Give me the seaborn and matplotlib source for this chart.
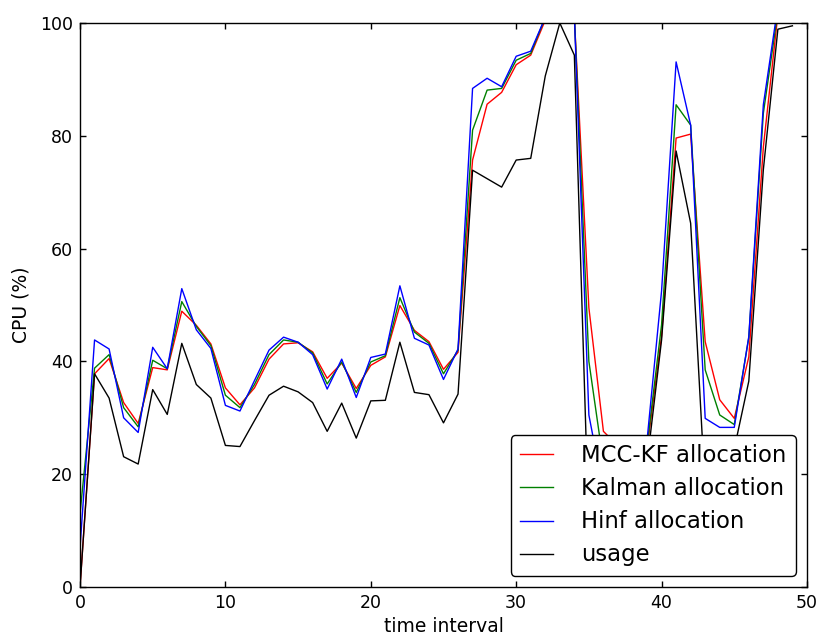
import numpy as np
import pandas as pd
import matplotlib
matplotlib.use("Agg")
import matplotlib.pyplot as plt
import seaborn as sns

time_interval = list(range(50))

mcc_kf = [0, 37.8, 40.5, 32.7, 29.0, 38.9, 38.5, 48.9, 46.4, 43.1,
          35.3, 32.3, 35.3, 40.4, 43.1, 43.3, 41.7, 37.0, 39.7, 35.2,
          39.3, 40.8, 49.9, 45.5, 43.5, 38.6, 41.6, 75.7, 85.6, 87.7,
          92.6, 94.3, 100.5, 101, 101, 49.5, 27.6, 25, 24, 24.5,
          44.5, 79.6, 80.3, 43.5, 33.2, 29.9, 40.8, 78, 101.5, 102]

kalman = [13, 38.8, 41.2, 31.8, 28.4, 40.2, 38.7, 50.6, 46.2, 42.8,
          34.0, 31.8, 35.9, 41.2, 43.8, 43.4, 41.5, 36.0, 39.9, 34.5,
          39.9, 41.0, 51.3, 45.2, 43.2, 37.8, 42.0, 81.0, 88.1, 88.4,
          93.4, 94.6, 101, 102, 101.5, 40, 22, 20, 21, 25,
          46.5, 85.5, 81.9, 38.5, 30.5, 28.8, 44.2, 84, 102, 103]

hinf = [7, 43.8, 42.2, 30.0, 27.4, 42.5, 38.7, 52.9, 45.6, 42.3,
        32.2, 31.2, 36.6, 42.0, 44.3, 43.4, 41.2, 35.1, 40.4, 33.6,
        40.7, 41.3, 53.4, 44.1, 42.9, 36.8, 42.2, 88.4, 90.2, 88.7,
        94.1, 95.0, 101, 102, 101.5, 30.5, 17, 17, 19, 26,
        52.5, 93.1, 81.9, 29.9, 28.3, 28.3, 44.4, 85.5, 103, 104]

usage = [0, 37.8, 33.5, 23.1, 21.8, 35.0, 30.6, 43.2, 35.9, 33.5,
         25.1, 24.9, 29.5, 34.0, 35.6, 34.6, 32.7, 27.6, 32.6, 26.4,
         33.0, 33.1, 43.4, 34.5, 34.1, 29.1, 34.2, 73.9, 72.4, 70.9,
         75.7, 76.0, 90.6, 100, 94.3, 10, 10, 11, 14, 22,
         43.8, 77.3, 64.5, 17, 15, 24.5, 36.5, 74, 98.9, 99.5]

series_names = ["MCC-KF allocation", "Kalman allocation", "Hinf allocation", "usage"]
series_colors = ["#ff0000", "#008000", "#0000ff", "#000000"]

frames = []
for name, vals in zip(series_names, [mcc_kf, kalman, hinf, usage]):
    frames.append(pd.DataFrame({"t": time_interval, "v": vals, "series": name}))
df = pd.concat(frames, ignore_index=True)

plt.rcParams["font.family"] = ["DejaVu Sans"]

fig = plt.figure(figsize=(8.19, 6.37), dpi=100)
ax = fig.add_axes([0.0977, 0.0785, 0.9853 - 0.0977, 0.9639 - 0.0785])

sns.lineplot(data=df, x="t", y="v", hue="series", hue_order=series_names,
             palette=dict(zip(series_names, series_colors)), linewidth=1.0,
             estimator=None, ax=ax)

ax.set_xlim(0, 50)
ax.set_ylim(0, 100)
ax.set_xticks([0, 10, 20, 30, 40, 50])
ax.set_yticks([0, 20, 40, 60, 80, 100])
ax.tick_params(direction="in", top=True, right=True, length=4.5, width=1,
               labelsize=12.5, pad=5)
for sp in ax.spines.values():
    sp.set_linewidth(1.0)
    sp.set_color("black")

ax.set_xlabel("time interval", fontsize=13.5, labelpad=4)
ax.set_ylabel("CPU (%)", fontsize=13.5, labelpad=7)

handles, labels = ax.get_legend_handles_labels()
leg = ax.legend(handles, labels, loc="lower right", fontsize=16.4,
                handlelength=1.45, handletextpad=1.25, borderpad=0.4,
                labelspacing=0.44, fancybox=True, framealpha=1,
                edgecolor="black", borderaxespad=0.5)
leg.get_frame().set_linewidth(1.0)

fig.savefig("out.png", dpi=100)
